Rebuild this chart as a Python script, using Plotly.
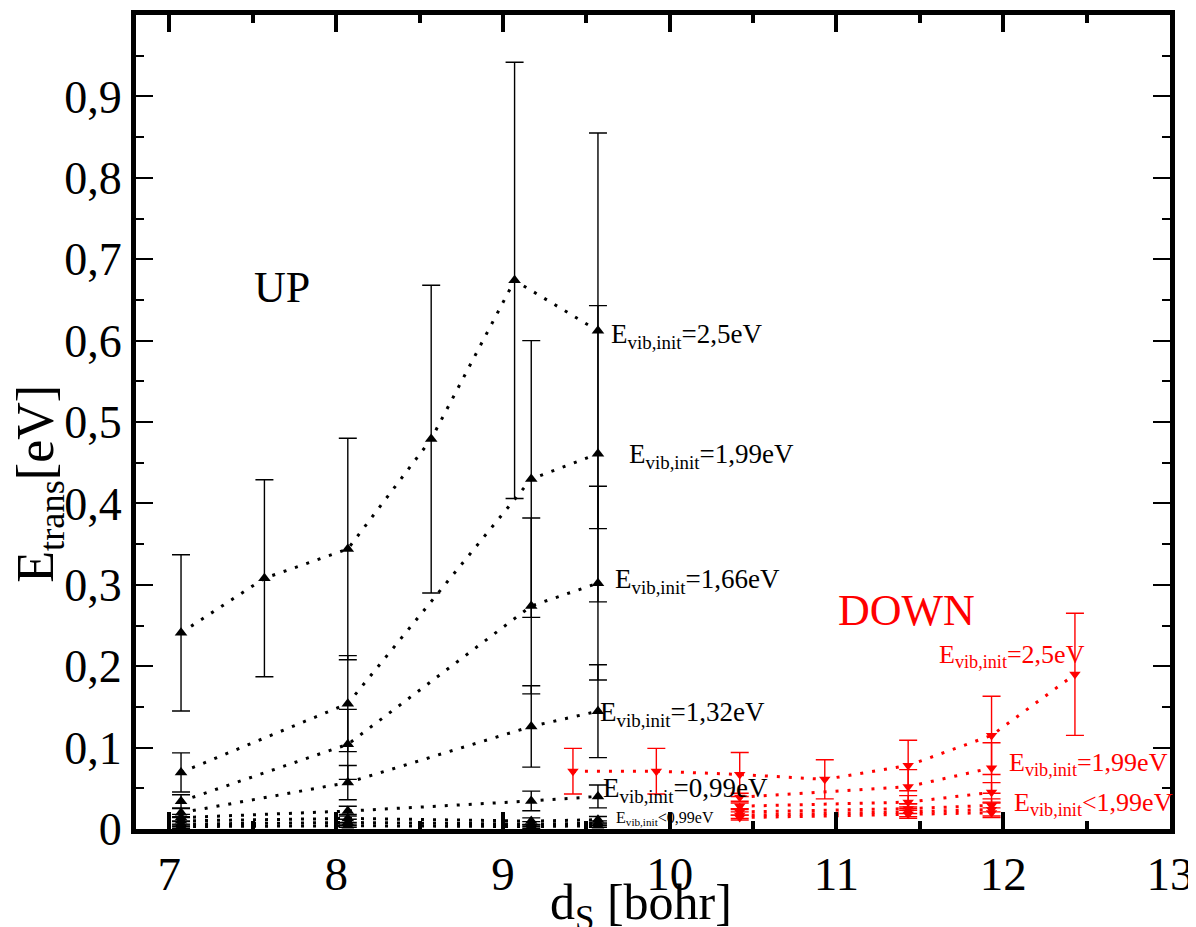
import plotly.graph_objects as go

# ---------------- data ----------------
up_x6 = [7.07, 7.57, 8.07, 8.57, 9.07, 9.57]
up_x4 = [7.07, 8.07, 9.17, 9.57]

up_250_y = [0.241, 0.308, 0.344, 0.479, 0.674, 0.612]
up_250_e = [0.096, 0.121, 0.136, 0.189, 0.268, 0.243]
up_199_y = [0.0695, 0.154, 0.430, 0.461]
up_199_e = [0.024, 0.059, 0.170, 0.182]
up_166_y = [0.034, 0.104, 0.274, 0.302]
up_166_e = [0.008, 0.043, 0.108, 0.119]
up_132_y = [0.020, 0.057, 0.126, 0.1447]
up_132_e = [0.005, 0.021, 0.050, 0.057]
up_099_y = [0.014, 0.022, 0.0345, 0.040]
up_099_e = [0.004, 0.006, 0.012, 0.014]
up_066_y = [0.010, 0.013, 0.0097, 0.0114]
up_066_e = [0.004, 0.005, 0.004, 0.004]
up_033_y = [0.006, 0.008, 0.006, 0.007]
up_033_e = [0.003, 0.004, 0.003, 0.003]
up_000_y = [0.003, 0.004, 0.003, 0.004]
up_000_e = [0.002, 0.002, 0.002, 0.002]

dn_x7 = [9.42, 9.92, 10.42, 10.93, 11.43, 11.93, 12.43]
dn_x3 = [10.42, 11.43, 11.93]

dn_250_y = [0.071, 0.071, 0.067, 0.061, 0.078, 0.115, 0.190]
dn_250_e = [0.028, 0.028, 0.027, 0.024, 0.031, 0.048, 0.075]
dn_199_y = [0.039, 0.052, 0.075]
dn_199_e = [0.005, 0.021, 0.031]
dn_166_y = [0.028, 0.033, 0.045]
dn_166_e = [0.004, 0.008, 0.012]
dn_132_y = [0.021, 0.025, 0.029]
dn_132_e = [0.004, 0.006, 0.008]
dn_099_y = [0.017, 0.021, 0.024]
dn_099_e = [0.004, 0.006, 0.008]
dn_066_y = [0.014, 0.018, 0.020]
dn_066_e = [0.003, 0.005, 0.006]

x_tickvals = [7, 8, 9, 10, 11, 12, 13]
x_ticktext = ["7", "8", "9", "10", "11", "12", "13"]
y_tickvals = [0, 0.1, 0.2, 0.3, 0.4, 0.5, 0.6, 0.7, 0.8, 0.9]
y_ticktext = ["0", "0,1", "0,2", "0,3", "0,4", "0,5", "0,6", "0,7", "0,8", "0,9"]

FONT = "Liberation Serif"
BLACK = "#000000"
RED = "#ff0000"

fig = go.Figure()


def add_series(x, y, e, color, symbol, msize):
    fig.add_trace(go.Scatter(
        x=x, y=y, mode="lines+markers",
        line=dict(color=color, width=3, dash="3px,9px"),
        marker=dict(symbol=symbol, size=msize, color=color),
        error_y=dict(type="data", array=e, visible=True, color=color,
                     thickness=1.4, width=9),
        showlegend=False, cliponaxis=False,
    ))


for yy, ee in [(up_000_y, up_000_e), (up_033_y, up_033_e), (up_066_y, up_066_e),
               (up_099_y, up_099_e), (up_132_y, up_132_e), (up_166_y, up_166_e),
               (up_199_y, up_199_e)]:
    add_series(up_x4, yy, ee, BLACK, "triangle-up", 11)
add_series(up_x6, up_250_y, up_250_e, BLACK, "triangle-up", 11)

for yy, ee in [(dn_066_y, dn_066_e), (dn_099_y, dn_099_e), (dn_132_y, dn_132_e),
               (dn_166_y, dn_166_e), (dn_199_y, dn_199_e)]:
    add_series(dn_x3, yy, ee, RED, "triangle-down", 10)
add_series(dn_x7, dn_250_y, dn_250_e, RED, "triangle-down", 10)

SUB = "E<sub>vib,init</sub>"
labels = [
    (9.634, 0.606, SUB + "=2,5eV", BLACK, 27),
    (9.742, 0.458, SUB + "=1,99eV", BLACK, 27),
    (9.658, 0.305, SUB + "=1,66eV", BLACK, 27),
    (9.568, 0.141, SUB + "=1,32eV", BLACK, 27),
    (9.586, 0.048, SUB + "=0,99eV", BLACK, 27),
    (9.664, 0.013, SUB + "<0,99eV", BLACK, 16),
    (11.605, 0.212, SUB + "=2,5eV", RED, 26),
    (12.025, 0.0795, SUB + "=1,99eV", RED, 26),
    (12.055, 0.0306, SUB + "<1,99eV", RED, 26),
]
for lx, ly, txt, col, fs in labels:
    fig.add_annotation(x=lx, y=ly, xref="x", yref="y", text=txt, showarrow=False,
                       xanchor="left", yanchor="middle",
                       font=dict(family=FONT, size=fs, color=col))

fig.add_annotation(x=7.675, y=0.665, xref="x", yref="y", text="UP", showarrow=False,
                   xanchor="center", yanchor="middle",
                   font=dict(family=FONT, size=44, color=BLACK))
fig.add_annotation(x=11.42, y=0.268, xref="x", yref="y", text="DOWN", showarrow=False,
                   xanchor="center", yanchor="middle",
                   font=dict(family=FONT, size=44, color=RED))

# axis titles
fig.add_annotation(x=-0.093, y=0.424, xref="paper", yref="paper",
                   text="E<sub>trans</sub>[eV]", showarrow=False, textangle=-90,
                   xanchor="center", yanchor="middle",
                   font=dict(family=FONT, size=52, color=BLACK))
fig.add_annotation(x=0.488, y=-0.053, xref="paper", yref="paper",
                   text="d<sub>S</sub> [bohr]", showarrow=False,
                   xanchor="center", yanchor="top",
                   font=dict(family=FONT, size=50, color=BLACK))

fig.update_layout(
    width=1188, height=919,
    margin=dict(l=128, r=26, t=7, b=98, autoexpand=False),
    paper_bgcolor="white", plot_bgcolor="white",
    font=dict(family=FONT, color=BLACK),
    xaxis=dict(range=[6.8, 13], showgrid=False, zeroline=False, automargin=False,
               showline=True, linewidth=5, linecolor=BLACK, mirror="allticks",
               ticks="inside", ticklen=17, tickwidth=4, tickcolor=BLACK,
               tickvals=x_tickvals, ticktext=x_ticktext,
               tickfont=dict(family=FONT, size=47, color=BLACK),
               minor=dict(dtick=0.5, ticks="inside", ticklen=8, tickwidth=4,
                          tickcolor=BLACK, showgrid=False)),
    yaxis=dict(range=[0, 1.0], showgrid=False, zeroline=False, automargin=False,
               showline=True, linewidth=5, linecolor=BLACK, mirror="allticks",
               ticks="inside", ticklen=17, tickwidth=1.5, tickcolor=BLACK,
               tickvals=y_tickvals, ticktext=y_ticktext,
               tickfont=dict(family=FONT, size=46, color=BLACK),
               minor=dict(dtick=0.05, ticks="inside", ticklen=8, tickwidth=1.5,
                          tickcolor=BLACK, showgrid=False)),
)

fig.write_html("out.html")
